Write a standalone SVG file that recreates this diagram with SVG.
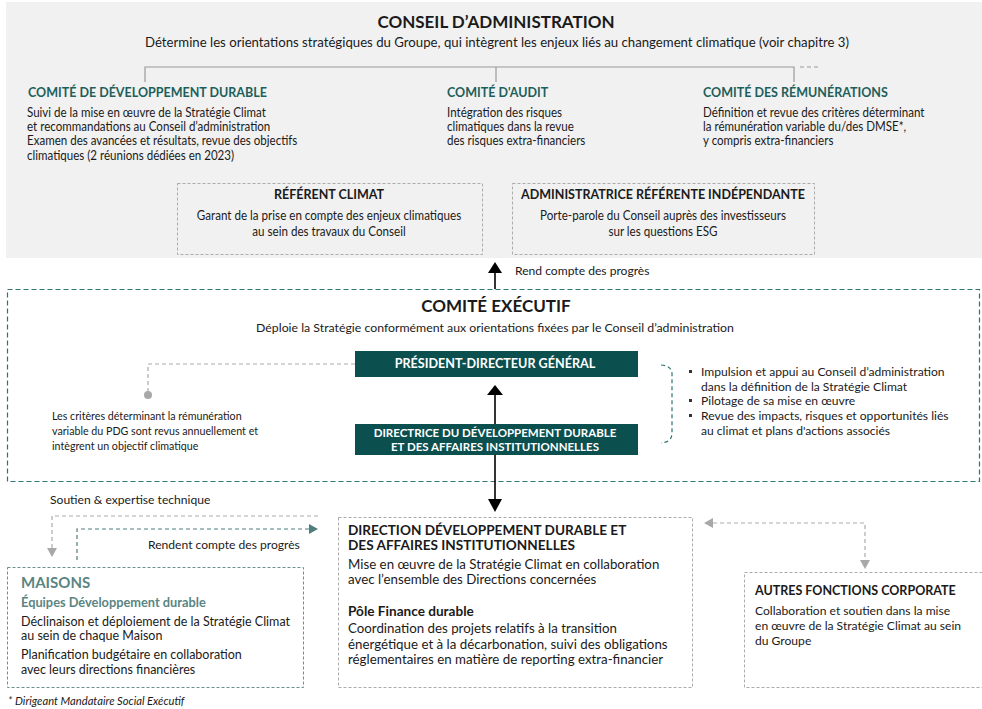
<svg xmlns="http://www.w3.org/2000/svg" width="982" height="709" viewBox="0 0 982 709">
  <style>
    text { font-family: Lato, "Open Sans", "Liberation Sans", sans-serif; fill: #1a1a1a; }
    .title { font-size: 17px; font-weight: 700; text-anchor: middle; }
    .chead { font-size: 12.5px; font-weight: 700; fill: #1d5f5b; }
    .body { font-size: 12.5px; }
    .lbl { font-size: 12.1px; }
    .bhead { font-size: 12.5px; font-weight: 700; }
    .ctr { text-anchor: middle; }
    .white { fill: #ffffff; font-weight: 700; text-anchor: middle; }
    .mais { fill: #5a8583; font-weight: 700; }
    .graybox { fill: none; stroke: #ababab; stroke-width: 1; stroke-dasharray: 3 2; }
    .gline { fill: none; stroke: #ababab; stroke-width: 1.2; stroke-dasharray: 4 3; }
    .tline { fill: none; stroke: #4f7f7c; stroke-width: 1.2; stroke-dasharray: 4 3; }
    .solid { fill: none; stroke: #000; stroke-width: 1.6; }
  </style>

  <!-- Board of directors panel -->
  <g id="conseil">
    <rect x="6" y="2" width="976" height="256" fill="#f1f1f1"/>
    <text class="title" x="496" y="28">CONSEIL D’ADMINISTRATION</text>
    <text class="ctr" x="497" y="47" style="font-size:13.2px">Détermine les orientations stratégiques du Groupe, qui intègrent les enjeux liés au changement climatique (voir chapitre 3)</text>
    <path d="M145 82 V67 H794 V82 M496 67 V82" fill="none" stroke="#9a9a9a" stroke-width="1.2"/>
    <path d="M800 67 H818" fill="none" stroke="#9a9a9a" stroke-width="1" stroke-dasharray="4 3"/>
  </g>

  <g id="comite-dd">
    <text class="chead" x="28" y="97">COMITÉ DE DÉVELOPPEMENT DURABLE</text>
    <g transform="translate(2.03 0) scale(0.925 1)">
      <text class="body" x="27" y="117">Suivi de la mise en œuvre de la Stratégie Climat</text>
      <text class="body" x="27" y="131">et recommandations au Conseil d’administration</text>
      <text class="body" x="27" y="145">Examen des avancées et résultats, revue des objectifs</text>
      <text class="body" x="27" y="160">climatiques (2 réunions dédiées en 2023)</text>
    </g>
  </g>

  <g id="comite-audit">
    <text class="chead" x="447" y="97">COMITÉ D'AUDIT</text>
    <g transform="translate(33.53 0) scale(0.925 1)">
      <text class="body" x="447" y="117">Intégration des risques</text>
      <text class="body" x="447" y="131">climatiques dans la revue</text>
      <text class="body" x="447" y="145">des risques extra-financiers</text>
    </g>
  </g>

  <g id="comite-remunerations">
    <text class="chead" x="703" y="97">COMITÉ DES RÉMUNÉRATIONS</text>
    <g transform="translate(52.73 0) scale(0.925 1)">
      <text class="body" x="703" y="117">Définition et revue des critères déterminant</text>
      <text class="body" x="703" y="131">la rémunération variable du/des DMSE*,</text>
      <text class="body" x="703" y="145">y compris extra-financiers</text>
    </g>
  </g>

  <g id="referent-climat">
    <rect class="graybox" x="177.5" y="183.5" width="305" height="71"/>
    <text class="bhead ctr" x="329" y="199">RÉFÉRENT CLIMAT</text>
    <g transform="translate(23.03 0) scale(0.93 1)">
      <text class="body ctr" x="329" y="220">Garant de la prise en compte des enjeux climatiques</text>
      <text class="body ctr" x="329" y="236">au sein des travaux du Conseil</text>
    </g>
  </g>

  <g id="administratrice-referente">
    <rect class="graybox" x="512.5" y="183.5" width="302" height="71"/>
    <text class="bhead ctr" x="663" y="199">ADMINISTRATRICE RÉFÉRENTE INDÉPENDANTE</text>
    <g transform="translate(46.41 0) scale(0.93 1)">
      <text class="body ctr" x="663" y="220">Porte-parole du Conseil auprès des investisseurs</text>
      <text class="body ctr" x="663" y="236">sur les questions ESG</text>
    </g>
  </g>

  <!-- Executive committee -->
  <g id="comite-executif">
    <rect x="7.5" y="289.5" width="972" height="192" fill="none" stroke="#2f7572" stroke-width="1.2" stroke-dasharray="5 3"/>
    <text class="title" x="496" y="312">COMITÉ EXÉCUTIF</text>
    <text class="ctr" x="495" y="332" style="font-size:12.3px">Déploie la Stratégie conformément aux orientations fixées par le Conseil d’administration</text>
  </g>

  <g id="pdg">
    <rect x="355" y="351" width="283" height="26" fill="#0b4f4f"/>
    <text class="white" x="495" y="368" style="font-size:12.6px">PRÉSIDENT-DIRECTEUR GÉNÉRAL</text>
  </g>

  <g id="directrice">
    <rect x="355" y="424" width="283" height="31" fill="#0b4f4f"/>
    <text class="white" x="495" y="437" style="font-size:11.5px">DIRECTRICE DU DÉVELOPPEMENT DURABLE</text>
    <text class="white" x="495" y="450.5" style="font-size:11.5px">ET DES AFFAIRES INSTITUTIONNELLES</text>
  </g>

  <g id="note-pdg" transform="translate(3.64 0) scale(0.93 1)">
    <text x="52" y="420" style="font-size:11.5px">Les critères déterminant la rémunération</text>
    <text x="52" y="435" style="font-size:11.5px">variable du PDG sont revus annuellement et</text>
    <text x="52" y="450" style="font-size:11.5px">intègrent un objectif climatique</text>
  </g>

  <g id="missions-pdg">
    <path d="M661 365 Q673 366 672 376 V433 Q672 442 661 443" fill="none" stroke="#2f7572" stroke-width="1.2" stroke-dasharray="4 3"/>
    <rect x="689" y="370" width="3" height="3" fill="#333"/>
    <rect x="689" y="399" width="3" height="3" fill="#333"/>
    <rect x="689" y="414" width="3" height="3" fill="#333"/>
    <text class="lbl" x="701" y="376">Impulsion et appui au Conseil d’administration</text>
    <text class="lbl" x="701" y="391">dans la définition de la Stratégie Climat</text>
    <text class="lbl" x="701" y="405">Pilotage de sa mise en œuvre</text>
    <text class="lbl" x="701" y="420">Revue des impacts, risques et opportunités liés</text>
    <text class="lbl" x="701" y="435">au climat et plans d'actions associés</text>
  </g>

  <!-- Operational level -->
  <g id="maisons">
    <rect x="7.5" y="567.5" width="296" height="120" fill="none" stroke="#6b8f8c" stroke-width="1" stroke-dasharray="3 2"/>
    <text class="mais" x="21" y="588" style="font-size:15px">MAISONS</text>
    <text class="mais" x="21" y="607" style="font-size:12.8px">Équipes Développement durable</text>
    <text class="body" x="21" y="626">Déclinaison et déploiement  de la Stratégie Climat</text>
    <text class="body" x="21" y="640">au sein de chaque Maison</text>
    <text class="body" x="21" y="659">Planification budgétaire en collaboration</text>
    <text class="body" x="21" y="674">avec leurs directions financières</text>
  </g>

  <g id="direction-dd">
    <rect class="graybox" x="338.5" y="517.5" width="354" height="170"/>
    <text class="bhead" x="348" y="535" style="font-size:13.6px">DIRECTION DÉVELOPPEMENT DURABLE ET</text>
    <text class="bhead" x="348" y="550" style="font-size:13.6px">DES AFFAIRES INSTITUTIONNELLES</text>
    <text x="348" y="569" style="font-size:13.3px">Mise en œuvre de la Stratégie Climat en collaboration</text>
    <text x="348" y="584" style="font-size:13.3px">avec l’ensemble des Directions concernées</text>
    <text class="bhead" x="348" y="616" style="font-size:13.6px">Pôle Finance durable</text>
    <text x="348" y="633" style="font-size:13.3px">Coordination des projets relatifs à la transition</text>
    <text x="348" y="649" style="font-size:13.3px">énergétique et à la décarbonation, suivi des obligations</text>
    <text x="348" y="664" style="font-size:13.3px">réglementaires en matière de reporting extra-financier</text>
  </g>

  <g id="autres-fonctions">
    <rect class="graybox" x="744.5" y="572.5" width="240" height="115"/>
    <text class="bhead" x="755" y="595">AUTRES FONCTIONS CORPORATE</text>
    <text class="lbl" x="755" y="615">Collaboration et soutien dans la mise</text>
    <text class="lbl" x="755" y="630">en œuvre de la Stratégie Climat au sein</text>
    <text class="lbl" x="755" y="645">du Groupe</text>
  </g>

  <text x="8" y="705" style="font-size:11.2px;font-style:italic">*  Dirigeant Mandataire Social Exécutif</text>

  <!-- Connectors -->
  <g id="connectors">
    <path class="solid" d="M495 289 V272"/>
    <polygon points="495,262 488,273 502,273" fill="#000"/>
    <text class="lbl" x="515" y="275">Rend compte des progrès</text>

    <path class="solid" d="M495 424 V394"/>
    <polygon points="495,385 487,395 503,395" fill="#000"/>

    <path class="solid" d="M495 455 V500"/>
    <polygon points="495,512 488,499 502,499" fill="#000"/>

    <path d="M355 364 H148 V393" fill="none" stroke="#ababab" stroke-width="1.2" stroke-dasharray="4 3"/>
    <circle cx="148" cy="395" r="4" fill="#a8a8a8"/>

    <text class="lbl" x="50" y="504">Soutien &amp; expertise technique</text>
    <path class="gline" d="M318 516 H52 V548"/>
    <polygon points="52,557 47,548 57,548" fill="#a8a8a8"/>

    <path class="tline" d="M77 560 V529 H310"/>
    <polygon points="318,529 309,524 309,534" fill="#4f7f7c"/>
    <text class="lbl" x="148" y="549">Rendent compte des progrès</text>

    <path class="gline" d="M713 523 H865 V560"/>
    <polygon points="704,523 713,518 713,528" fill="#a8a8a8"/>
    <polygon points="865,569 860,560 870,560" fill="#a8a8a8"/>
  </g>
</svg>
